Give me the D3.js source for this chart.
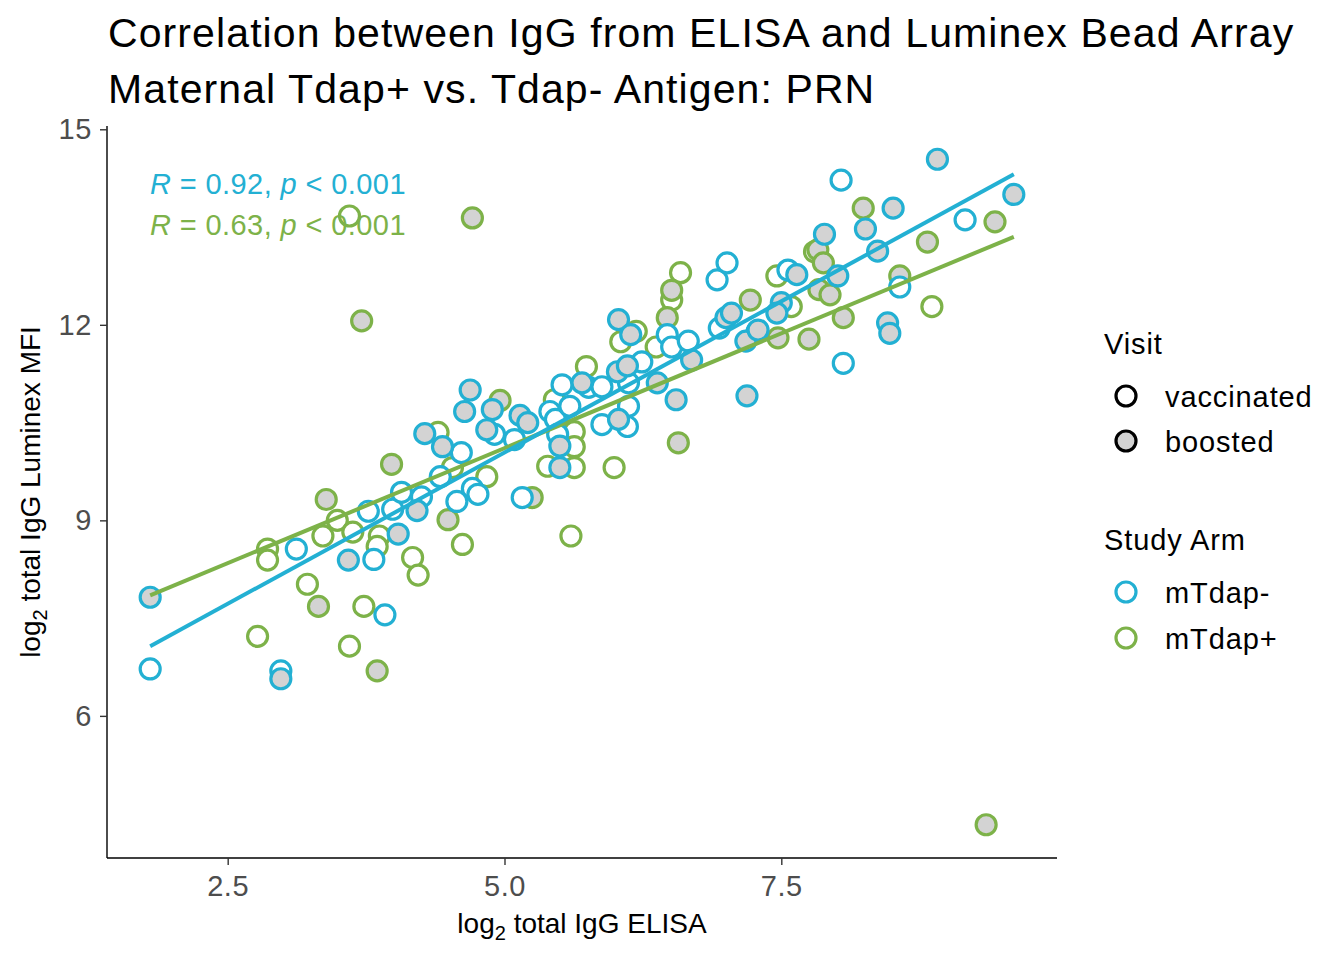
<!DOCTYPE html>
<html>
<head>
<meta charset="utf-8">
<script src="https://cdn.jsdelivr.net/npm/d3@7"></script>
<style>
  body { margin: 0; background: #fff; }
  svg { font-family: "Liberation Sans", Arial, sans-serif; }
</style>
</head>
<body>
<svg id="chart"></svg>
<script>
// log2 ELISA (x) vs log2 Luminex MFI (y)
const negVaccinated = [
  [1.80, 6.72], [2.98, 6.69], [3.12, 8.56], [3.77, 9.14], [3.82, 8.40], [3.92, 7.55],
  [3.99, 9.17], [4.07, 9.43], [4.25, 9.36], [4.42, 9.67], [4.61, 10.04], [4.57, 9.29],
  [4.71, 9.49], [4.76, 9.40], [5.16, 9.35], [5.09, 10.24], [4.91, 10.32], [5.52, 11.08],
  [5.41, 10.67], [5.46, 10.55], [5.48, 10.32], [5.59, 10.75], [5.76, 11.04], [5.88, 11.05],
  [6.24, 11.43], [6.12, 11.11], [6.12, 10.75], [5.88, 10.47], [6.11, 10.44], [6.47, 11.85],
  [6.51, 11.66], [6.66, 11.75], [6.92, 12.69], [7.01, 12.95], [6.94, 11.95], [7.56, 12.84],
  [7.28, 11.89], [8.04, 14.22], [8.06, 11.41], [8.57, 12.58], [9.16, 13.61]
];
const negBoosted = [
  [1.80, 7.82], [2.98, 6.57], [3.59, 8.39], [4.04, 8.79], [4.21, 9.15], [4.28, 10.33],
  [4.44, 10.13], [4.64, 10.67], [4.69, 11.00], [4.89, 10.70], [4.84, 10.39], [5.14, 10.61],
  [5.21, 10.50], [5.50, 9.81], [5.50, 10.14], [5.70, 11.11], [6.02, 11.28], [6.11, 11.37],
  [6.38, 11.11], [6.55, 10.85], [6.69, 11.46], [6.03, 10.55], [6.03, 12.08], [6.14, 11.85],
  [7.00, 12.11], [7.05, 12.18], [7.18, 11.75], [7.29, 11.92], [7.50, 12.34], [7.46, 12.18],
  [7.19, 10.91], [7.64, 12.77], [8.01, 12.75], [7.89, 13.39], [8.26, 13.47], [8.37, 13.13],
  [8.51, 13.79], [8.91, 14.54], [9.60, 14.00], [8.46, 12.03], [8.48, 11.87]
];
const posVaccinated = [
  [3.60, 13.67], [2.77, 7.22], [2.86, 8.56], [2.86, 8.39], [3.22, 8.02], [3.49, 9.00],
  [3.36, 8.76], [3.63, 8.82], [3.60, 7.07], [3.73, 7.68], [3.87, 8.76], [3.85, 8.60],
  [4.17, 8.43], [4.22, 8.16], [4.40, 10.35], [4.53, 9.81], [4.62, 8.63], [4.84, 9.67],
  [5.45, 10.85], [5.74, 11.36], [5.63, 10.36], [5.63, 10.13], [5.39, 9.83], [5.63, 9.81],
  [5.60, 8.76], [5.99, 9.81], [6.05, 11.74], [6.19, 11.90], [6.37, 11.66], [6.51, 12.38],
  [6.59, 12.80], [7.46, 12.75], [7.59, 12.28], [8.86, 12.28], [7.80, 13.12]
];
const posBoosted = [
  [4.71, 13.64], [3.71, 12.06], [9.35, 4.33], [3.32, 7.68], [3.39, 9.32], [3.85, 6.69],
  [3.98, 9.86], [4.49, 9.01], [4.96, 10.84], [5.25, 9.35], [6.57, 10.19], [6.47, 12.11],
  [6.51, 12.53], [7.22, 12.38], [7.47, 11.80], [7.75, 11.78], [7.84, 12.54], [7.94, 12.46],
  [8.06, 12.11], [7.83, 13.15], [7.88, 12.95], [8.24, 13.79], [8.82, 13.27], [9.43, 13.58],
  [8.57, 12.75]
];

// fitted lm lines (ends), one per study arm
const fitX = [1.80, 9.60];
const fitNeg = [7.07, 14.31];
const fitPos = [7.85, 13.35];

const xTicks = [2.5, 5.0, 7.5];
const yTicks = [6, 9, 12, 15];
const corrLabels = [
  { arm: "mTdap-", r: "0.92", p: "0.001" },
  { arm: "mTdap+", r: "0.63", p: "0.001" }
];

const armColors = { "mTdap-": "#23B0D3", "mTdap+": "#7DB249" };
const visitFill = { "vaccinated": "#FFFFFF", "boosted": "#D3D3D3" };

const W = 1344, H = 960;
const margin = { top: 126, right: 287, bottom: 102, left: 107 };

const svg = d3.select("#chart").attr("width", W).attr("height", H);

// Combine groups into point records
const groups = [
  { arm: "mTdap+", visit: "vaccinated", pts: posVaccinated },
  { arm: "mTdap+", visit: "boosted", pts: posBoosted },
  { arm: "mTdap-", visit: "vaccinated", pts: negVaccinated },
  { arm: "mTdap-", visit: "boosted", pts: negBoosted }
];
const points = [];
groups.forEach(g => g.pts.forEach(p => points.push({ x: p[0], y: p[1], arm: g.arm, visit: g.visit })));

// ggplot style 5% expansion
const xExt = d3.extent(points, d => d.x);
const yExt = d3.extent(points, d => d.y);
const xPad = (xExt[1] - xExt[0]) * 0.05;
const yPad = (yExt[1] - yExt[0]) * 0.05;

const x = d3.scaleLinear()
  .domain([xExt[0] - xPad, xExt[1] + xPad])
  .range([margin.left, W - margin.right]);
const y = d3.scaleLinear()
  .domain([yExt[0] - yPad, yExt[1] + yPad])
  .range([H - margin.bottom, margin.top]);

// Points
svg.append("g").selectAll("circle")
  .data(points)
  .enter()
  .append("circle")
  .attr("cx", d => x(d.x))
  .attr("cy", d => y(d.y))
  .attr("r", 10)
  .attr("fill", d => visitFill[d.visit])
  .attr("stroke", d => armColors[d.arm])
  .attr("stroke-width", 3.2);

// Regression lines
const line = d3.line().x(d => x(d[0])).y(d => y(d[1]));
[["mTdap+", fitPos], ["mTdap-", fitNeg]].forEach(([arm, ys]) => {
  svg.append("path")
    .attr("d", line(fitX.map((v, i) => [v, ys[i]])))
    .attr("fill", "none")
    .attr("stroke", armColors[arm])
    .attr("stroke-width", 4);
});

// Axes
const xAxis = svg.append("g")
  .attr("transform", `translate(0,${H - margin.bottom})`)
  .call(d3.axisBottom(x).tickValues(xTicks).tickFormat(d3.format(".1f")).tickSize(7).tickPadding(10));
const yAxis = svg.append("g")
  .attr("transform", `translate(${margin.left},0)`)
  .call(d3.axisLeft(y).tickValues(yTicks).tickSize(7).tickPadding(8));

[xAxis, yAxis].forEach(a => {
  a.select(".domain").attr("stroke", "#000").attr("stroke-width", 1.4)
    .attr("d", a === xAxis
      ? `M${margin.left},0H${W - margin.right}`
      : `M0,${margin.top}V${H - margin.bottom}`);
  a.selectAll(".tick line").attr("stroke", "#333").attr("stroke-width", 1.4);
  a.selectAll(".tick text")
    .attr("fill", "#4D4D4D")
    .style("font-size", "29px")
    .style("letter-spacing", "0.6px")
    .style("font-family", "'Liberation Sans', Arial, sans-serif");
});

// Axis titles with subscript 2
const xt = svg.append("text")
  .attr("x", (margin.left + W - margin.right) / 2)
  .attr("y", 933)
  .attr("text-anchor", "middle")
  .style("font-size", "28px");
xt.append("tspan").text("log");
xt.append("tspan").attr("dy", 7).style("font-size", "20px").text("2");
xt.append("tspan").attr("dy", -7).text(" total IgG ELISA");

const yt = svg.append("text")
  .attr("transform", `translate(40,${(margin.top + H - margin.bottom) / 2}) rotate(-90)`)
  .attr("text-anchor", "middle")
  .style("font-size", "28px");
yt.append("tspan").text("log");
yt.append("tspan").attr("dy", 7).style("font-size", "20px").text("2");
yt.append("tspan").attr("dy", -7).text(" total IgG Luminex MFI");

// Title
svg.append("text").attr("x", 108).attr("y", 47).style("font-size", "41px").style("letter-spacing", "1.1px")
  .text("Correlation between IgG from ELISA and Luminex Bead Array");
svg.append("text").attr("x", 108).attr("y", 103).style("font-size", "41px").style("letter-spacing", "1.1px")
  .text("Maternal Tdap+ vs. Tdap- Antigen: PRN");

// Correlation labels
corrLabels.forEach((c, i) => {
  const t = svg.append("text")
    .attr("x", 150)
    .attr("y", 194 + i * 41)
    .attr("fill", armColors[c.arm])
    .style("font-size", "29px")
    .style("letter-spacing", "0.4px");
  t.append("tspan").style("font-style", "italic").text("R");
  t.append("tspan").text(` = ${c.r}, `);
  t.append("tspan").style("font-style", "italic").text("p");
  t.append("tspan").text(` < ${c.p}`);
});

// Legend: Visit
const lg = svg.append("g").attr("transform", "translate(1104,0)")
  .style("font-size", "29px").style("letter-spacing", "0.9px");
lg.append("text").attr("x", 0).attr("y", 354).text("Visit");
["vaccinated", "boosted"].forEach((v, i) => {
  const cy = 396 + i * 45;
  lg.append("circle").attr("cx", 22).attr("cy", cy).attr("r", 10)
    .attr("fill", visitFill[v]).attr("stroke", "#000").attr("stroke-width", 3.2);
  lg.append("text").attr("x", 61).attr("y", cy + 11).text(v);
});

// Legend: Study Arm
lg.append("text").attr("x", 0).attr("y", 550).text("Study Arm");
["mTdap-", "mTdap+"].forEach((a, i) => {
  const cy = 592 + i * 46;
  lg.append("circle").attr("cx", 22).attr("cy", cy).attr("r", 10)
    .attr("fill", "#fff").attr("stroke", armColors[a]).attr("stroke-width", 3.2);
  lg.append("text").attr("x", 61).attr("y", cy + 11).text(a);
});
</script>
</body>
</html>
